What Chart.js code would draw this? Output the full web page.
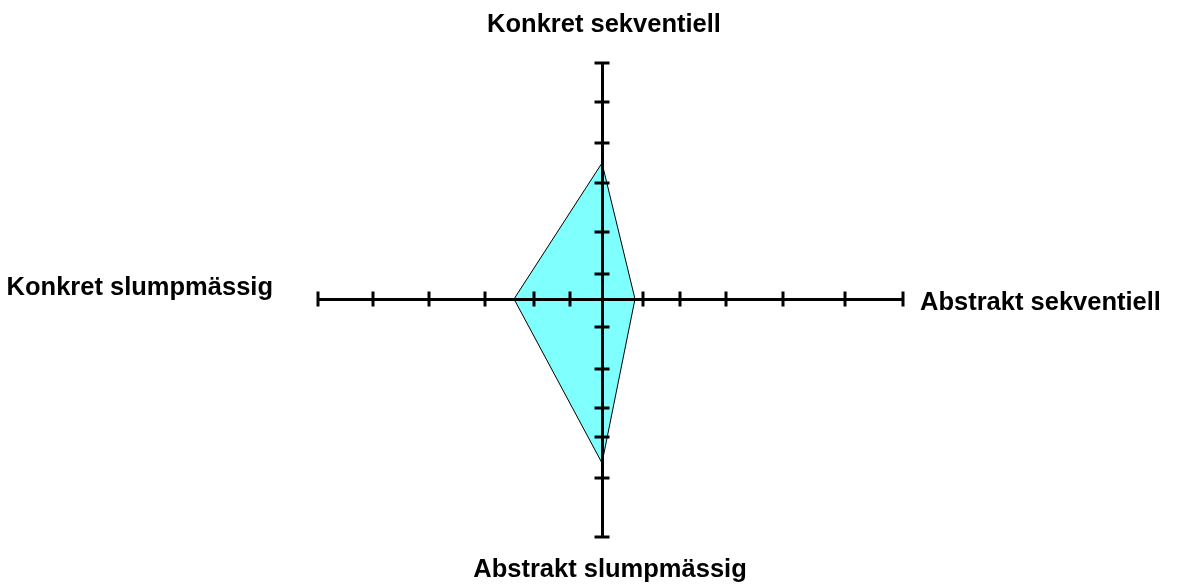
<!DOCTYPE html>
<html><head><meta charset="utf-8">
<script src="https://cdn.jsdelivr.net/npm/chart.js@4"></script>
<style>html,body{margin:0;padding:0;background:#fff;overflow:hidden;}</style>
</head><body>
<canvas id="c" width="1177" height="588"></canvas>
<script>
// Axis names: top, right, bottom, left
const axisNames = ['Konkret sekventiell', 'Abstrakt sekventiell', 'Abstrakt slumpmässig', 'Konkret slumpmässig'];
// Profile values along each axis: top, right, bottom, left
const profileValues = [13.6, 3.3, 16.4, 8.8];
// Tick positions (axis units)
const xTicksLeft = [-3.2, -6.8, -11.7, -17.3, -22.9, -28.4];
const xTicksRight = [4.1, 7.8, 12.4, 18.1, 24.3, 30.1];
const yTicksUp = [2.5, 6.7, 11.6, 15.6, 19.7, 23.6];
const yTicksDown = [-2.8, -7.0, -10.9, -13.8, -17.9, -23.8];
const xRange = [-28.4, 30.1];
const yRange = [-23.8, 23.6];

const xTickPoints = xTicksLeft.concat(xTicksRight).map(v => ({x: v, y: 0}));
const yTickPoints = yTicksUp.concat(yTicksDown).map(v => ({x: 0, y: v}));
const shape = [
  {x: -profileValues[3], y: 0},
  {x: 0, y: profileValues[0]},
  {x: profileValues[1], y: 0},
  {x: 0, y: -profileValues[2]},
  {x: -profileValues[3], y: 0}
];

const labelPlugin = {
  id: 'axisNames',
  afterDraw(chart) {
    const {ctx} = chart;
    const x = chart.scales.x, y = chart.scales.y;
    const cx = x.getPixelForValue(0), cy = y.getPixelForValue(0);
    ctx.save();
    ctx.font = 'bold 25.5px "Liberation Sans", Arial, sans-serif';
    ctx.fillStyle = '#000';
    ctx.textBaseline = 'alphabetic';
    ctx.textAlign = 'center';
    ctx.fillText(axisNames[0], cx + 2, y.getPixelForValue(yRange[1]) - 31);
    ctx.fillText(axisNames[2], cx + 8, y.getPixelForValue(yRange[0]) + 40);
    ctx.textAlign = 'left';
    ctx.fillText(axisNames[1], x.getPixelForValue(xRange[1]) + 17, cy + 11);
    ctx.textAlign = 'right';
    ctx.fillText(axisNames[3], x.getPixelForValue(xRange[0]) - 45, cy - 4);
    ctx.restore();
  }
};

const axisCommon = {
  type: 'linear',
  grid: {display: false},
  ticks: {display: false},
  border: {display: true, color: '#000', width: 3, z: 1},
  z: 1
};

new Chart(document.getElementById('c'), {
  type: 'scatter',
  data: {
    datasets: [
      {
        data: xTickPoints,
        pointStyle: 'line', rotation: 90,
        pointRadius: 7.5, pointHoverRadius: 7.5,
        pointBorderWidth: 3, pointBorderColor: '#000', pointHoverBorderWidth: 3,
        clip: false
      },
      {
        data: yTickPoints,
        pointStyle: 'line', rotation: 0,
        pointRadius: 7.5, pointHoverRadius: 7.5,
        pointBorderWidth: 3, pointBorderColor: '#000', pointHoverBorderWidth: 3,
        clip: false
      },
      {
        data: shape,
        showLine: true,
        fill: 'shape',
        backgroundColor: '#80FFFF',
        borderColor: '#000',
        borderWidth: 1,
        pointRadius: 0,
        pointHoverRadius: 0,
        tension: 0
      }
    ]
  },
  options: {
    responsive: false,
    animation: false,
    devicePixelRatio: 1,
    layout: {padding: {left: 318, right: 274, top: 63, bottom: 51}},
    plugins: {legend: {display: false}, tooltip: {enabled: false}},
    events: [],
    scales: {
      x: Object.assign({}, axisCommon, {min: xRange[0], max: xRange[1], position: {y: 0}}),
      y: Object.assign({}, axisCommon, {min: yRange[0], max: yRange[1], position: {x: 0}})
    }
  },
  plugins: [labelPlugin]
});
</script>
</body></html>
